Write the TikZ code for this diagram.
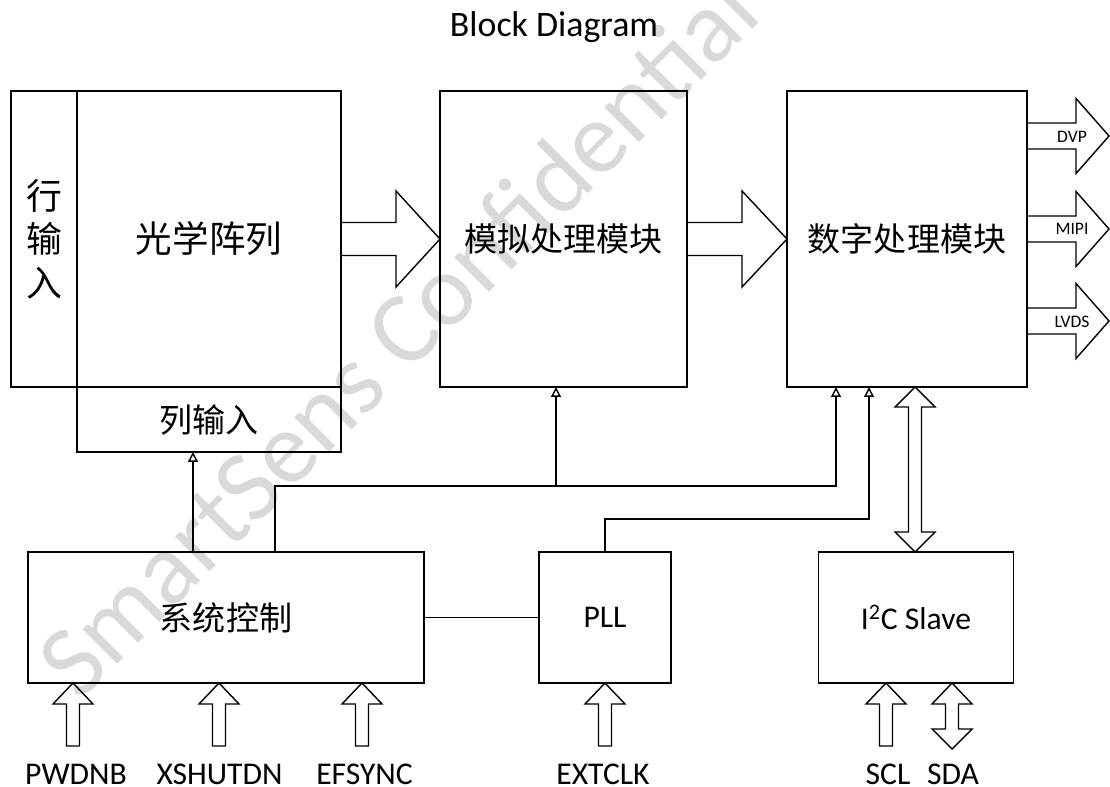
\documentclass[tikz,border=0pt]{standalone}
\usepackage{fontspec}
\setmainfont{Carlito}
\newfontfamily\cjk{Noto Sans CJK SC}
\usetikzlibrary{arrows.meta}

\tikzset{
    box/.style={draw, line width=1pt, inner sep=0pt, outer sep=0pt},
    sig/.style={line width=1pt, -{Triangle[open, length=7pt, width=7pt]}},
    blk/.style={line width=1pt, line join=miter},
    zh/.style={font=\cjk\fontsize{23.5}{28}\selectfont},
    en/.style={font=\fontsize{22.5}{27}\selectfont},
}

\begin{document}
\begin{tikzpicture}[x=0.025cm, y=-0.025cm]
    \useasboundingbox (0, 0) rectangle (1110, 787);

    % watermark
    \node[rotate=45, anchor=base west, inner sep=0pt, text=black!15, font=\fontsize{73}{80}\selectfont] (wm) at (79, 703) {SmartSens Confidential};

    \node[anchor=base, font=\fontsize{25.5}{30}\selectfont] (title) at (554, 37) {Block Diagram};

    % top row
    \node[box, minimum width=1.65cm, minimum height=7.4cm, align=center, font=\cjk\fontsize{25.5}{31}\selectfont] (row) at (44, 239) {行\\输\\入};
    \node[box, zh, minimum width=6.6cm, minimum height=7.4cm, font=\cjk\fontsize{26}{30}\selectfont] (optic) at (209, 239) {光学阵列};
    \node[box, zh, minimum width=6.6cm, minimum height=1.625cm] (colin) at (209, 419.5) {列输入};
    \node[box, zh, minimum width=6.175cm, minimum height=7.4cm] (analog) at (563.5, 239) {模拟处理模块};
    \node[box, zh, minimum width=6cm, minimum height=7.4cm] (digital) at (907, 239) {数字处理模块};

    % bottom row
    \node[box, zh, minimum width=9.9cm, minimum height=3.275cm] (sysctl) at (226, 617.5) {系统控制};
    \node[box, en, minimum width=3.3cm, minimum height=3.275cm] (pll) at (605, 617.5) {PLL};
    \node[box, en, minimum width=4.875cm, minimum height=3.275cm] (i2c) at (916, 617.5) {I\textsuperscript{2}C Slave};

    % data path
    \draw[blk] (optic.east |- 0,222.5) -- (396, 222.5) -- (396, 191) -- (analog.west) -- (396, 287) -- (396, 255.5) -- (optic.east |- 0,255.5);
    \draw[blk] (analog.east |- 0,222.5) -- (742, 222.5) -- (742, 191) -- (digital.west) -- (742, 287) -- (742, 255.5) -- (analog.east |- 0,255.5);

    % outputs
    \draw[blk] (1027, 123) -- (1076, 123) -- (1076, 98.5) -- (1109, 136) -- (1076, 173.5) -- (1076, 149) -- (1027, 149);
    \draw[blk] (1027, 216) -- (1076, 216) -- (1076, 191.5) -- (1109, 229) -- (1076, 266.5) -- (1076, 242) -- (1027, 242);
    \draw[blk] (1027, 308) -- (1076, 308) -- (1076, 283.5) -- (1109, 321) -- (1076, 358.5) -- (1076, 334) -- (1027, 334);
    \node[font=\fontsize{12.5}{15}\selectfont] (dvp) at (1072, 137) {DVP};
    \node[font=\fontsize{12.5}{15}\selectfont] (mipi) at (1072, 229) {MIPI};
    \node[font=\fontsize{12.5}{15}\selectfont] (lvds) at (1072, 322) {LVDS};

    % control lines
    \coordinate (c0) at (193, 0);
    \coordinate (b1) at (275, 486);
    \coordinate (b2) at (556, 486);
    \coordinate (p1) at (605, 519);
    \draw[sig] (sysctl.north -| c0) -- (colin.south -| c0);
    \draw[sig] (sysctl.north -| b1) -- (b1) -| (digital.south -| 836,0);
    \draw[sig] (b2) -- (analog.south -| b2);
    \draw[sig] (pll.north) -- (p1) -| (digital.south -| 869,0);
    \draw[line width=1pt] (sysctl.east) -- (pll.west);

    % I2C bus
    \draw[blk] (915, 387) -- (935, 407) -- (921.5, 407) -- (921.5, 532) -- (935, 532) -- (915, 552) -- (895, 532) -- (908.5, 532) -- (908.5, 407) -- (895, 407) -- cycle;

    % pins
    \draw[blk] (73, 683) -- (93, 704) -- (79.5, 704) -- (79.5, 746) -- (66.5, 746) -- (66.5, 704) -- (53, 704) -- cycle;
    \draw[blk] (219, 683) -- (239, 704) -- (225.5, 704) -- (225.5, 746) -- (212.5, 746) -- (212.5, 704) -- (199, 704) -- cycle;
    \draw[blk] (362, 683) -- (382, 704) -- (368.5, 704) -- (368.5, 746) -- (355.5, 746) -- (355.5, 704) -- (342, 704) -- cycle;
    \draw[blk] (605, 683) -- (625, 704) -- (611.5, 704) -- (611.5, 746) -- (598.5, 746) -- (598.5, 704) -- (585, 704) -- cycle;
    \draw[blk] (886, 683) -- (906, 704) -- (892.5, 704) -- (892.5, 746) -- (879.5, 746) -- (879.5, 704) -- (866, 704) -- cycle;
    \draw[blk] (952, 683) -- (972, 704) -- (958.5, 704) -- (958.5, 729) -- (972, 729) -- (952, 749) -- (932, 729) -- (945.5, 729) -- (945.5, 704) -- (932, 704) -- cycle;

    \node[en, anchor=base] (pwdnb) at (76, 784) {PWDNB};
    \node[en, anchor=base] (xshutdn) at (219.5, 784) {XSHUTDN};
    \node[en, anchor=base] (efsync) at (364.5, 784) {EFSYNC};
    \node[en, anchor=base] (extclk) at (603, 784) {EXTCLK};
    \node[en, anchor=base] (scl) at (888, 784) {SCL};
    \node[en, anchor=base] (sda) at (953, 784) {SDA};
\end{tikzpicture}
\end{document}
